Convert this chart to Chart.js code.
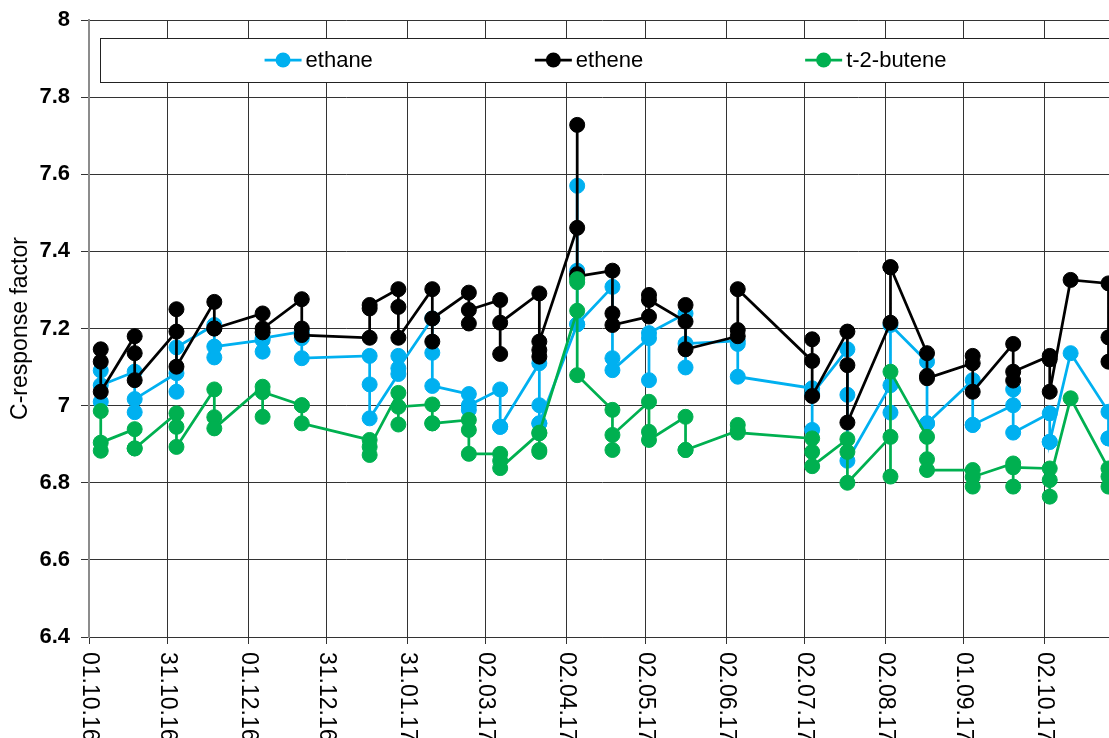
<!DOCTYPE html>
<html lang="en">
<head>
    <meta charset="UTF-8">
    <title>C-response factor</title>
    <script src="https://cdn.jsdelivr.net/npm/chart.js@4.4.0/dist/chart.umd.min.js"></script>
    <style>
        html, body { margin: 0; padding: 0; background: #fff; overflow: hidden; }
        #myChart { display: block; }
    </style>
</head>
<body>
<canvas id="myChart" width="1125" height="738" style="width:1125px;height:738px"></canvas>
<script>
// day of each run, counted from 01.10.16
var runDays = [
    4.5, 4.5, 4.5,   17.5, 17.5, 17.5,   33.5, 33.5, 33.5,   48, 48, 48,
    66.5, 66.5, 66.5,   81.5, 81.5, 81.5,   107.5, 107.5, 107.5,   118.5, 118.5, 118.5,
    131.5, 131.5, 131.5,   145.5, 145.5, 145.5,   157.5, 157.5, 157.5,
    172.5, 172.5, 172.5, 172.5,   187, 187, 187, 187,   200.5, 200.5, 200.5,
    214.5, 214.5, 214.5,   228.5, 228.5, 228.5,   248.5, 248.5, 248.5,
    277, 277, 277,   290.5, 290.5, 290.5,   307, 307, 307,   321, 321, 321,
    338.5, 338.5, 338.5,   354, 354, 354,   368, 368, 368,   376,   390.5, 390.5, 390.5
];
var ethane = [
    7.091, 7.010, 7.053,   7.088, 6.983, 7.017,   7.084, 7.036, 7.151,   7.209, 7.125, 7.153,
    7.170, 7.140, 7.175,   7.192, 7.175, 7.123,   7.129, 7.055, 6.967,   7.082, 7.129, 7.097,
    7.226, 7.137, 7.051,   7.030, 6.989, 7.001,   7.042, 6.945, 6.945,
    7.110, 7.001, 6.954, 6.954,   7.211, 7.570, 7.350, 7.211,   7.308, 7.123, 7.092,
    7.175, 7.066, 7.188,   7.239, 7.099, 7.161,   7.168, 7.160, 7.075,
    7.045, 6.937, 7.030,   7.146, 7.028, 6.857,   7.053, 6.982, 7.209,   7.114, 6.954, 6.954,
    7.066, 6.950, 6.950,   7.001, 7.042, 6.930,   6.980, 6.906, 6.906,   7.136,   6.984, 6.915, 6.915
];
var ethene = [
    7.146, 7.114, 7.036,   7.180, 7.136, 7.066,   7.192, 7.250, 7.101,   7.269, 7.200, 7.200,
    7.239, 7.190, 7.200,   7.276, 7.200, 7.183,   7.176, 7.252, 7.261,   7.302, 7.256, 7.176,
    7.302, 7.166, 7.226,   7.293, 7.213, 7.248,   7.274, 7.134, 7.215,
    7.291, 7.127, 7.144, 7.166,   7.461, 7.728, 7.341, 7.335,   7.350, 7.239, 7.209,
    7.231, 7.287, 7.274,   7.218, 7.261, 7.146,   7.180, 7.196, 7.302,
    7.116, 7.172, 7.025,   7.192, 7.105, 6.956,   7.215, 7.359, 7.359,   7.136, 7.077, 7.071,
    7.110, 7.129, 7.036,   7.160, 7.065, 7.088,   7.129, 7.120, 7.036,   7.326,   7.317, 7.177, 7.114
];
var butene = [
    6.986, 6.883, 6.904,   6.939, 6.889, 6.889,   6.980, 6.945, 6.893,   7.042, 6.970, 6.941,
    7.049, 6.971, 7.035,   7.001, 7.001, 6.954,   6.911, 6.872, 6.893,   7.033, 6.951, 6.997,
    7.003, 6.954, 6.954,   6.963, 6.937, 6.875,   6.875, 6.857, 6.838,
    6.928, 6.885, 6.880, 6.930,   7.246, 7.328, 7.320, 7.079,   6.989, 6.885, 6.924,
    7.010, 6.932, 6.911,   6.971, 6.885, 6.885,   6.935, 6.950, 6.930,
    6.915, 6.880, 6.843,   6.913, 6.880, 6.800,   6.919, 6.816, 7.088,   6.919, 6.861, 6.833,
    6.833, 6.790, 6.815,   6.850, 6.790, 6.840,   6.837, 6.764, 6.807,   7.019,   6.837, 6.816, 6.790
];
var tickDays = [0, 30, 61, 91, 122, 152, 183, 213, 244, 274, 305, 335, 366];
var tickLabels = ['01.10.16', '31.10.16', '01.12.16', '31.12.16', '31.01.17', '02.03.17', '02.04.17',
                  '02.05.17', '02.06.17', '02.07.17', '02.08.17', '01.09.17', '02.10.17'];

var FONT = "'Liberation Sans', Arial, sans-serif";

function toPoints(values) {
    return values.map(function (v, i) { return { x: runDays[i], y: v }; });
}

function series(label, values, color, order) {
    return {
        label: label,
        data: toPoints(values),
        borderColor: color,
        backgroundColor: color,
        pointBackgroundColor: color,
        pointBorderColor: color,
        borderWidth: 2.75,
        pointRadius: 7.5,
        pointHoverRadius: 7.5,
        pointBorderWidth: 1,
        tension: 0,
        order: order
    };
}

// legend box drawn inside the plot, over the grid
var legendBox = {
    id: 'legendBox',
    afterDatasetsDraw: function (chart) {
        var ctx = chart.ctx, area = chart.chartArea;
        var left = area.left + 11, right = area.right - 4;
        var top = area.top + 18, h = 44;
        ctx.save();
        ctx.fillStyle = '#fff';
        ctx.fillRect(left, top, right - left, h);
        ctx.strokeStyle = '#222';
        ctx.lineWidth = 1;
        ctx.strokeRect(left + 0.5, top + 0.5, right - left, h);

        ctx.font = '22px ' + FONT;
        var gap = 162, lineLen = 37;
        var items = chart.data.datasets.map(function (ds) {
            return { ds: ds, w: lineLen + 4 + ctx.measureText(ds.label).width };
        });
        var total = items.reduce(function (s, it) { return s + it.w; }, 0) + gap * (items.length - 1);
        var x = (left + right) / 2 - total / 2;
        var cy = top + h / 2;
        items.forEach(function (it) {
            var c = it.ds.borderColor;
            ctx.strokeStyle = c;
            ctx.lineWidth = 2.75;
            ctx.beginPath();
            ctx.moveTo(x, cy);
            ctx.lineTo(x + lineLen, cy);
            ctx.stroke();
            ctx.fillStyle = c;
            ctx.beginPath();
            ctx.arc(x + lineLen / 2, cy, 7.5, 0, Math.PI * 2);
            ctx.fill();
            ctx.fillStyle = '#000';
            ctx.textAlign = 'left';
            ctx.textBaseline = 'middle';
            ctx.fillText(it.ds.label, x + lineLen + 4, cy + 1);
            x += it.w + gap;
        });
        ctx.restore();
    }
};

// date labels turned clockwise, reading downwards
var dateLabels = {
    id: 'dateLabels',
    afterDraw: function (chart) {
        var ctx = chart.ctx, xs = chart.scales.x, area = chart.chartArea;
        ctx.save();
        ctx.font = '23px ' + FONT;
        ctx.fillStyle = '#000';
        ctx.textAlign = 'left';
        ctx.textBaseline = 'middle';
        tickDays.forEach(function (d, i) {
            ctx.save();
            ctx.translate(xs.getPixelForValue(d), area.bottom + 15);
            ctx.rotate(Math.PI / 2);
            ctx.fillText(tickLabels[i], 0, 0);
            ctx.restore();
        });
        ctx.restore();
    }
};

new Chart(document.getElementById('myChart').getContext('2d'), {
    type: 'line',
    data: {
        datasets: [
            series('ethane', ethane, '#00b0f0', 3),
            series('ethene', ethene, '#000000', 2),
            series('t-2-butene', butene, '#00b050', 1)
        ]
    },
    options: {
        responsive: false,
        animation: false,
        devicePixelRatio: 1,
        layout: { padding: { top: 20, right: 10, left: 0, bottom: 0 } },
        plugins: { legend: { display: false }, tooltip: { enabled: false } },
        scales: {
            x: {
                type: 'linear',
                min: 0,
                max: 393,
                afterBuildTicks: function (scale) {
                    scale.ticks = tickDays.map(function (d) { return { value: d }; });
                },
                afterFit: function (scale) { scale.height = 101; },
                ticks: { display: false },
                grid: { color: '#333', lineWidth: 1, drawTicks: true, tickLength: 7 },
                border: { color: '#333', width: 1 }
            },
            y: {
                min: 6.4,
                max: 8,
                afterFit: function (scale) {
                    scale.width = 89;
                    scale.paddingTop = 0;
                    scale.paddingBottom = 0;
                },
                ticks: {
                    stepSize: 0.2,
                    padding: 11,
                    color: '#000',
                    font: { family: FONT, size: 22, weight: 'bold' },
                    callback: function (v) { return String(Math.round(v * 10) / 10); }
                },
                grid: { color: '#333', lineWidth: 1, drawTicks: true, tickLength: 8 },
                border: { color: '#8c8c8c', width: 2 },
                title: {
                    display: true,
                    text: 'C-response factor',
                    color: '#000',
                    font: { family: FONT, size: 23 },
                    padding: { top: 7, bottom: 0 }
                }
            }
        }
    },
    plugins: [legendBox, dateLabels]
});
</script>
</body>
</html>
